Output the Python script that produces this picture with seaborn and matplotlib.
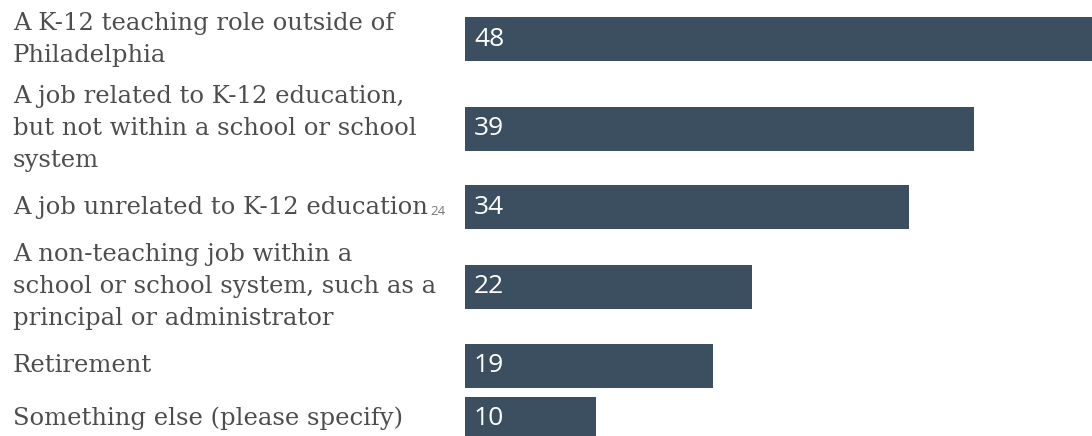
import numpy as np
import pandas as pd
import seaborn as sns
import matplotlib.pyplot as plt
from matplotlib.transforms import blended_transform_factory

# Survey answers and the share (%) choosing each
categories = [
    "A K-12 teaching role outside of\nPhiladelphia",
    "A job related to K-12 education,\nbut not within a school or school\nsystem",
    "A job unrelated to K-12 education",
    "A non-teaching job within a\nschool or school system, such as a\nprincipal or administrator",
    "Retirement",
    "Something else (please specify)",
]
values = [48, 39, 34, 22, 19, 10]
footnotes = ["", "", "24", "", "", ""]

BAR_COLOR = "#3b4f60"
LABEL_COLOR = "#4d4d4d"

# Row layout (in pixel units): each row is as tall as its label or its bar
LINE_H = 32
BAR_H = 44
GAP = 9
TOP = 3
n_lines = np.array([c.count("\n") + 1 for c in categories])
row_h = np.maximum(n_lines * LINE_H, BAR_H) + GAP
centers = TOP + np.cumsum(row_h) - row_h / 2

df = pd.DataFrame({"category": categories, "value": values, "pos": centers})

sns.set_theme(style="white")
W, H = 1092, 436
fig = plt.figure(figsize=(W / 100, H / 100), dpi=100)
fig.patch.set_facecolor("white")
ax = fig.add_axes([465 / W, 0, 627 / W, 1])

native_width = np.min(np.diff(np.sort(centers)))
sns.barplot(data=df, x="value", y="pos", orient="h", native_scale=True,
            color=BAR_COLOR, saturation=1, width=BAR_H / native_width,
            ax=ax, errorbar=None)
for p in ax.patches:
    p.set_edgecolor("none")

ax.set_xlim(0, 48)
ax.set_ylim(H, 0)
ax.set_axis_off()

# Category labels on the left, value labels inside the bars
trans = blended_transform_factory(fig.transFigure, ax.transData)
for cat, val, note, y in zip(categories, values, footnotes, centers):
    t = ax.text(13 / W, y, cat, transform=trans, ha="left", va="center",
                fontsize=17.5, family="DejaVu Serif", color=LABEL_COLOR,
                linespacing=1.52)
    if note:
        ax.annotate(note, xy=(1, 0), xycoords=t, xytext=(2, 1),
                    textcoords="offset points", ha="left", va="bottom",
                    fontsize=9.5, family="Open Sans", color="#777777")
    ax.annotate(str(val), xy=(0, y), xytext=(6.5, 0), textcoords="offset points",
                ha="left", va="center", fontsize=19, family="Open Sans",
                color="white")

fig.savefig("out.png", dpi=100, facecolor="white")
